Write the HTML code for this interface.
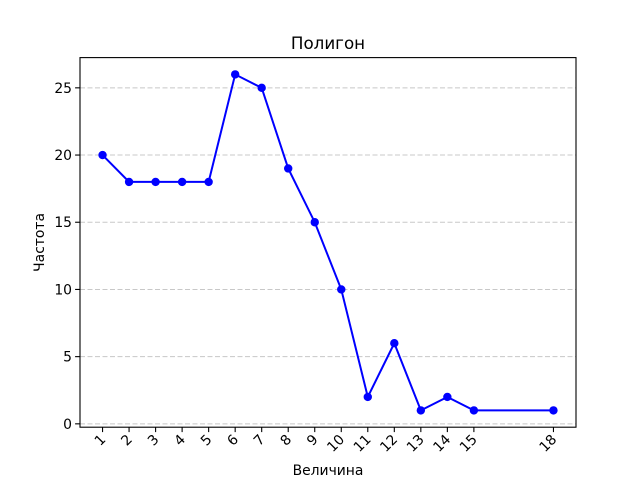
<!DOCTYPE html>
<html><head><meta charset="utf-8"><style>body{margin:0;background:#fff}svg{display:block;font-family:"DejaVu Sans","Liberation Sans",sans-serif}</style></head>
<body>
<svg id="c" width="640" height="480"></svg>
<script>
const xValues=[1,2,3,4,5,6,7,8,9,10,11,12,13,14,15,18];
const yValues=[20,18,18,18,18,26,25,19,15,10,2,6,1,2,1,1];
const yTicks=[0,5,10,15,20,25];
const L=80,R=576,T=57.6,B=427.2;
const xmin=0.15,xmax=18.85,ymin=-0.25,ymax=27.25;
const sx=v=>L+(v-xmin)/(xmax-xmin)*(R-L);
const sy=v=>B-(v-ymin)/(ymax-ymin)*(B-T);
const svg=document.getElementById('c');const NS='http://www.w3.org/2000/svg';
function mk(t,a,p){const e=document.createElementNS(NS,t);for(const k in a)e.setAttribute(k,a[k]);(p||svg).appendChild(e);return e;}
yTicks.forEach(v=>{
const g=mk('line',{x1:L,x2:R,y1:sy(v),y2:sy(v),stroke:'#c8c8c8','stroke-width':1,'stroke-dasharray':'5,2.5'});


const tk=mk('line',{x1:L-4.9,x2:L,y1:sy(v),y2:sy(v),stroke:'#000','stroke-width':1.1});


const t=mk('text',{x:L-8,y:sy(v)+5,'text-anchor':'end','font-size':13.9});t.textContent=v;


});
xValues.forEach(v=>{
const tk=mk('line',{x1:sx(v),x2:sx(v),y1:B,y2:B+4.9,stroke:'#000','stroke-width':1.1});


const x=sx(v)+4,y=B+13;
const t=mk('text',{x:x,y:y,'text-anchor':'end','font-size':13.9,transform:`rotate(-45 ${x} ${y})`});t.textContent=v;


});
const fr=mk('rect',{x:L,y:T,width:R-L,height:B-T,fill:'none',stroke:'#000','stroke-width':1.1});


const pl=mk('polyline',{points:xValues.map((v,i)=>sx(v)+','+sy(yValues[i])).join(' '),fill:'none',stroke:'#0000ff','stroke-width':2});


xValues.forEach((v,i)=>{
const c=mk('circle',{cx:sx(v),cy:sy(yValues[i]),r:4.2,fill:'#0000ff'});


});
const ti=mk('text',{x:(L+R)/2,y:49,'text-anchor':'middle','font-size':16.7});ti.textContent='Полигон';


const xl=mk('text',{x:(L+R)/2,y:475,'text-anchor':'middle','font-size':13.9});xl.textContent='Величина';


const yl=mk('text',{x:44,y:(T+B)/2,'text-anchor':'middle','font-size':13.9,transform:`rotate(-90 44 ${(T+B)/2})`});yl.textContent='Частота';


</script>
</body></html>
